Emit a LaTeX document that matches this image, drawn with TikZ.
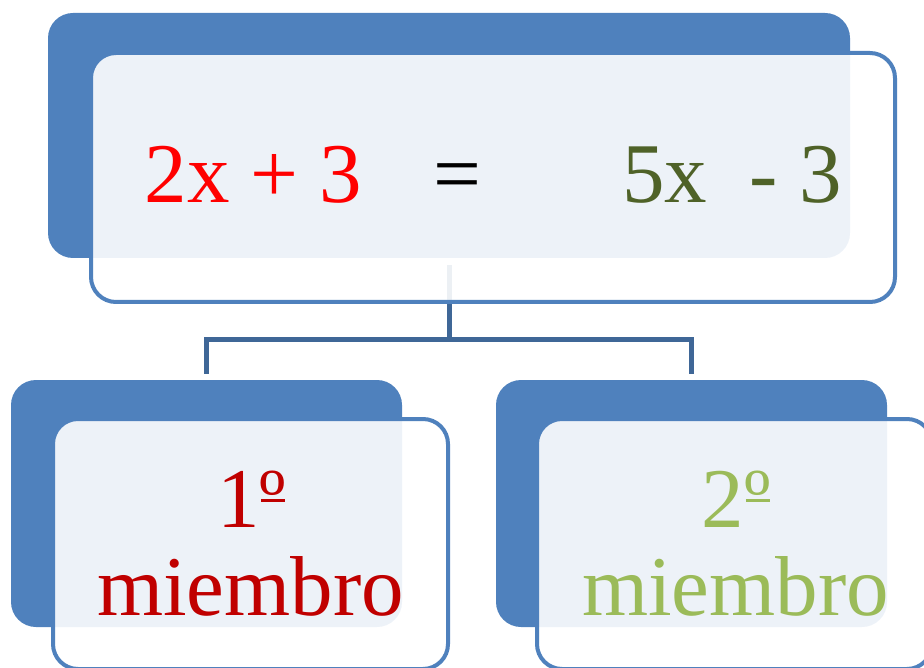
\documentclass[tikz,border=0pt]{standalone}
\usepackage{fontspec}
\setmainfont{Liberation Serif}
\usetikzlibrary{calc}
\definecolor{accent}{HTML}{4F81BD}
\definecolor{connc}{HTML}{3F6797}
\definecolor{olive}{HTML}{4F6228}
\definecolor{darkred}{HTML}{C00000}
\definecolor{lightgreen}{HTML}{9BBB59}
\newcommand\ordul{\leavevmode\rlap{\hspace{0.02em}\rule[0.29em]{0.28em}{0.035em}}º}
\begin{document}
\begin{tikzpicture}[x=1pt,y=-1pt,
  backbox/.style={fill=accent, draw=none, rounded corners=25pt, inner sep=0pt, outer sep=0pt},
  frontbox/.style={draw=accent, line width=4pt, fill=white, fill opacity=0.9, draw opacity=1, rounded corners=25pt, inner sep=0pt, outer sep=0pt},
  conn/.style={draw=connc, line width=5pt},
  bigtext/.style={anchor=base, inner sep=0pt, font=\fontsize{85}{100}\selectfont}]
\useasboundingbox (0,0) rectangle (924,668);
% back boxes
\node[backbox, minimum width=802pt, minimum height=245pt] (tb) at (449,135.5) {};
\node[backbox, minimum width=391pt, minimum height=247pt] (lb) at (206.5,503.5) {};
\node[backbox, minimum width=391pt, minimum height=247pt] (rb) at (691.5,503.5) {};
% connectors
\coordinate (split) at ($(tb.south)+(0,82)$);
\coordinate (stemtop) at ($(tb.south)+(0,7)$);
\coordinate (ltop) at ($(lb.north)+(0,-6)$);
\coordinate (rtop) at ($(rb.north)+(0,-6)$);
\draw[conn] (stemtop) -- (split);
\draw[conn] (ltop) |- (split) -| (rtop);
% front boxes
\node[frontbox, minimum width=804pt, minimum height=249pt] (tf) at (493,177.5) {};
\node[frontbox, minimum width=395pt, minimum height=250pt] (lf) at (250.5,544) {};
\node[frontbox, minimum width=395pt, minimum height=250pt] (rf) at (734.5,544) {};
% texts
\node[bigtext, text=red] (lhs) at (253.5,203) {2x + 3};
\node[bigtext, text=black] (eq) at (457,203) {=};
\node[bigtext, text=olive] (rhs) at (732,203) {5x~~-~3};
\node[bigtext, text=darkred] (m1a) at (251.5,527) {1\ordul};
\node[bigtext, text=darkred] (m1b) at (250.5,615) {miembro};
\node[bigtext, text=lightgreen] (m2a) at (736,527) {2\ordul};
\node[bigtext, text=lightgreen] (m2b) at (735.5,615) {miembro};
\end{tikzpicture}
\end{document}
